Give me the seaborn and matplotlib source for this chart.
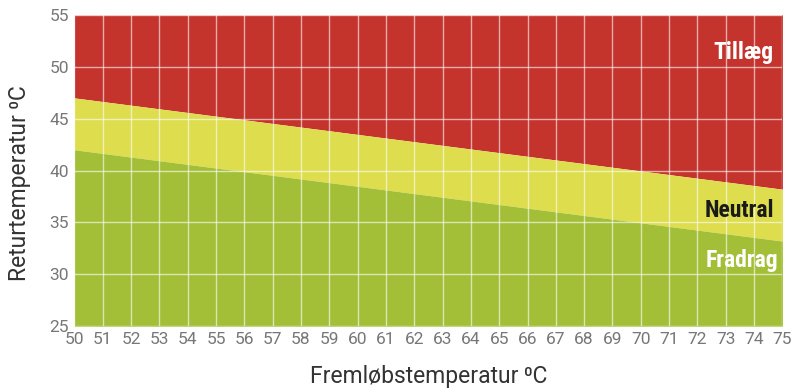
import matplotlib
matplotlib.use("Agg")
import matplotlib.pyplot as plt
import seaborn as sns
import numpy as np
import pandas as pd

# Data
flow_temp = [50, 75]
upper_limit = [47.0, 38.2]
lower_limit = [42.0, 33.2]
x_ticks = list(range(50, 76))
y_ticks = [25, 30, 35, 40, 45, 50, 55]
zone_labels = ["Tillæg", "Neutral", "Fradrag"]

RED = "#C5332D"
YELLOW = "#DDDD4E"
GREEN = "#A3BF38"
GRAY = "#777777"

sns.set_theme(style="white")
plt.rcParams['font.family'] = ['Roboto', 'DejaVu Sans']

fig, ax = plt.subplots(figsize=(8, 3.92), dpi=100)
fig.subplots_adjust(left=0.093, right=0.978, top=0.962, bottom=0.168)

df = pd.DataFrame({"x": flow_temp, "upper": upper_limit, "lower": lower_limit})
ymin, ymax = y_ticks[0], y_ticks[-1]

ax.fill_between(df["x"], df["upper"], ymax, color=RED, linewidth=0, zorder=1)
ax.fill_between(df["x"], df["lower"], df["upper"], color=YELLOW, linewidth=0, zorder=1)
ax.fill_between(df["x"], ymin, df["lower"], color=GREEN, linewidth=0, zorder=1)
sns.lineplot(data=df, x="x", y="upper", ax=ax, color=YELLOW, linewidth=0, zorder=1)

ax.set_xlim(flow_temp[0], flow_temp[-1])
ax.set_ylim(ymin, ymax)
ax.set_xticks(x_ticks)
ax.set_yticks(y_ticks)
ax.grid(True, color="white", alpha=0.6, linewidth=1.0, zorder=2)
ax.set_axisbelow(False)
for s in ax.spines.values():
    s.set_visible(False)

ax.tick_params(axis="both", colors=GRAY, labelsize=12.5, length=0, pad=4)

ax.set_xlabel("Fremløbstemperatur ⁰C", fontsize=16.5, color="#333333", labelpad=13)
ax.set_ylabel("Returtemperatur ⁰C", fontsize=16.5, color="#333333")
ax.yaxis.set_label_coords(-0.062, 0.46)

cond = ['Liberation Sans Narrow', 'Roboto Condensed', 'DejaVu Sans']
ax.text(74.7, 51.4, zone_labels[0], color="white", fontsize=17, fontweight="bold",
        ha="right", va="center", family=cond, zorder=3)
ax.text(74.7, 36.1, zone_labels[1], color="#1a1a1a", fontsize=17, fontweight="bold",
        ha="right", va="center", family=cond, zorder=3)
ax.text(74.85, 31.3, zone_labels[2], color="white", fontsize=17, fontweight="bold",
        ha="right", va="center", family=cond, zorder=3)

fig.savefig("out.png", dpi=100)
